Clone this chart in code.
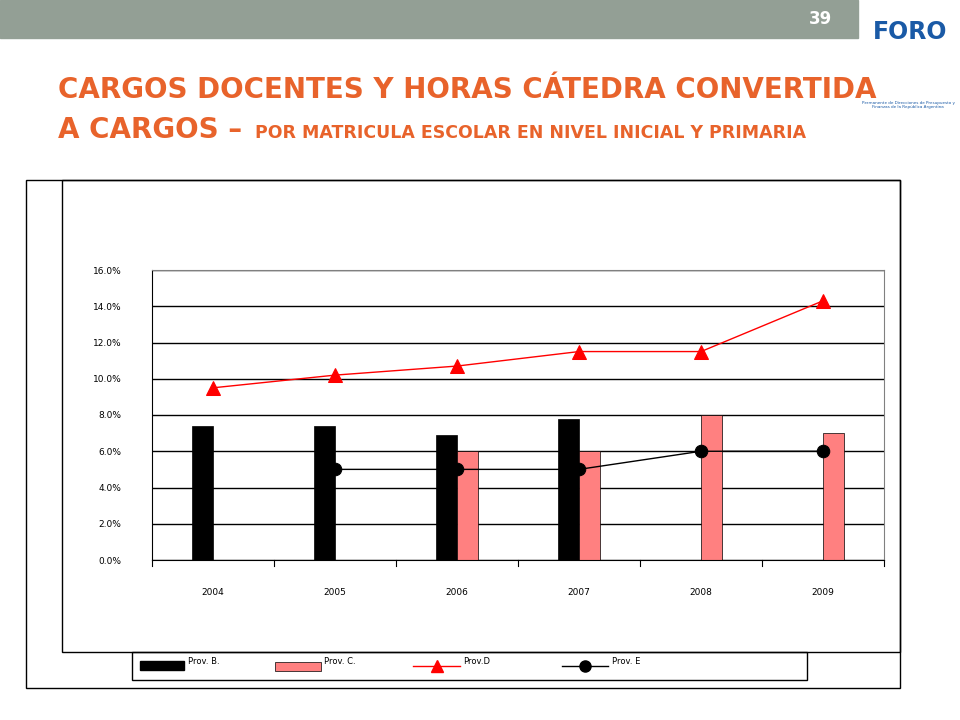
import numpy as np, pandas as pd, seaborn as sns
import matplotlib
matplotlib.use("Agg")
import matplotlib.pyplot as plt
from matplotlib.patches import Rectangle
from matplotlib.lines import Line2D

years = ["2004", "2005", "2006", "2007", "2008", "2009"]
prov_b = [7.4, 7.4, 6.9, 7.8, 0, 0]
prov_c = [0, 0, 6.0, 6.0, 8.0, 7.0]
prov_d = [9.5, 10.2, 10.7, 11.5, 11.5, 14.3]
prov_e = [np.nan, 5.0, 5.0, 5.0, 6.0, 6.0]
yticks = [0, 2, 4, 6, 8, 10, 12, 14, 16]

fig = plt.figure(figsize=(9.6, 7.2), dpi=100)
W, H = 960, 720
def fx(x): return x / W
def fy(y): return 1 - y / H

# top band
fig.add_artist(Rectangle((0, fy(38)), fx(858), 38 / H, color="#939f95", transform=fig.transFigure))
fig.text(fx(820), fy(19), "39", color="white", fontsize=12, fontweight="bold", ha="center", va="center")
fig.text(fx(910), fy(32), "FORO", color="#1a5aa6", fontsize=17, fontweight="bold", ha="center", va="center")
fig.text(fx(908), fy(105), "Permanente de Direcciones de Presupuesto y\nFinanzas de la República Argentina",
         color="#1a5aa6", fontsize=3, ha="center", va="center")
fig.text(fx(58), fy(90), "CARGOS DOCENTES Y HORAS CÁTEDRA CONVERTIDA", color="#e8632b",
         fontsize=20, fontweight="bold", ha="left", va="center")
fig.text(fx(58), fy(130), "A CARGOS – ", color="#e8632b", fontsize=20, fontweight="bold", ha="left", va="center")
fig.text(fx(255), fy(133), "POR MATRICULA ESCOLAR EN NIVEL INICIAL Y PRIMARIA", color="#e8632b",
         fontsize=12.5, fontweight="bold", ha="left", va="center")

# boxes
fig.add_artist(Rectangle((fx(26), fy(688)), fx(874), (688 - 180) / H, fill=False, ec="black", lw=1, transform=fig.transFigure))
fig.add_artist(Rectangle((fx(62), fy(652)), fx(838), (652 - 180) / H, fill=False, ec="black", lw=1, transform=fig.transFigure))
fig.add_artist(Rectangle((fx(132), fy(680)), fx(675), 28 / H, fill=False, ec="black", lw=1, transform=fig.transFigure))

ax = fig.add_axes([fx(152), fy(560), fx(884 - 152), (560 - 270) / H])
df = pd.DataFrame({"year": years * 2, "val": prov_b + prov_c,
                   "serie": ["Prov. B."] * 6 + ["Prov. C."] * 6})
sns.barplot(data=df, x="year", y="val", hue="serie", palette=["black", "#ff8080"], saturation=1,
            width=0.34, gap=0, ax=ax, legend=False, edgecolor="black", linewidth=0.5)
idx = np.arange(len(years))
sns.lineplot(x=idx, y=prov_d, color="red", lw=1, marker="^", markersize=10, mec="red", ax=ax)
sns.lineplot(x=idx, y=prov_e, color="black", lw=1, marker="o", markersize=9, mec="black", ax=ax)
ax.set_xlim(-0.5, 5.5)
ax.set_ylim(0, 16)
ax.set_yticks(yticks)
ax.set_yticklabels([f"{v:.1f}%" for v in yticks], fontsize=6.5)
ax.set_xticks(idx)
ax.set_xticklabels(years, fontsize=6.5)
ax.set_xlabel(""); ax.set_ylabel("")
ax.grid(axis="y", color="black", lw=1)
ax.set_axisbelow(True)
for s in ["top", "right"]:
    ax.spines[s].set_color("gray")
ax.tick_params(axis="x", length=0, pad=20)
ax.tick_params(axis="y", length=0, pad=22)
for xb in np.arange(-0.5, 6, 1):
    ax.plot([xb, xb], [0, -0.35], color="black", lw=0.8, clip_on=False)

# legend
def lt(x, y, s): fig.text(fx(x), fy(y), s, fontsize=6, ha="left", va="center")
fig.add_artist(Rectangle((fx(140), fy(670)), fx(44), 9 / H, color="black", transform=fig.transFigure))
lt(188, 662, "Prov. B.")
fig.add_artist(Rectangle((fx(275), fy(671)), fx(46), 9 / H, fc="#ff8080", ec="black", lw=0.5, transform=fig.transFigure))
lt(324, 662, "Prov. C.")
fig.add_artist(Line2D([fx(413), fx(460)], [fy(666)] * 2, color="red", lw=1, transform=fig.transFigure))
fig.add_artist(Line2D([fx(437)], [fy(666)], color="red", marker="^", markersize=9, transform=fig.transFigure))
lt(463, 662, "Prov.D")
fig.add_artist(Line2D([fx(562), fx(608)], [fy(666)] * 2, color="black", lw=1, transform=fig.transFigure))
fig.add_artist(Line2D([fx(585)], [fy(666)], color="black", marker="o", markersize=8, transform=fig.transFigure))
lt(612, 662, "Prov. E")

fig.savefig("out.png", dpi=100)
